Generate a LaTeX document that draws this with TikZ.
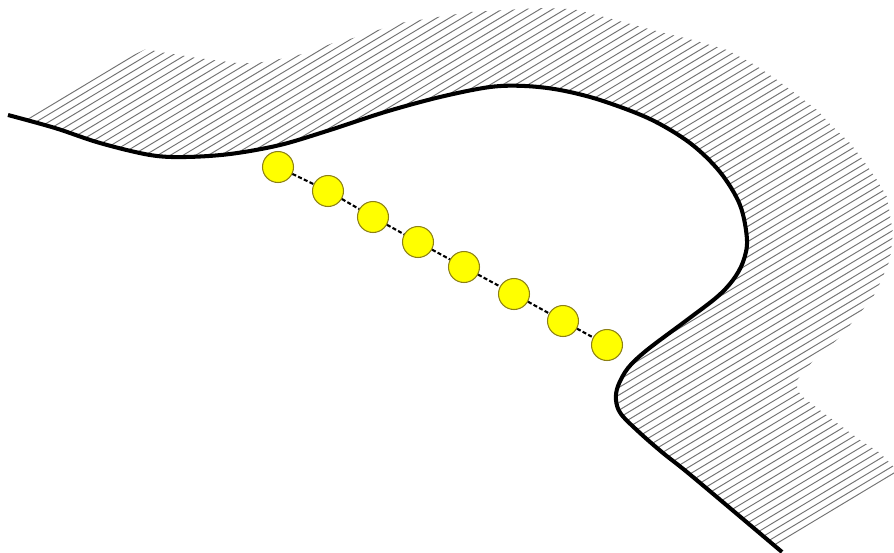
\documentclass[tikz,border=0pt]{standalone}
\definecolor{ballfill}{RGB}{255,255,0}
\definecolor{ballrim}{RGB}{140,128,20}
\definecolor{hatchgray}{RGB}{115,115,115}
\tikzset{
  ball/.style={circle, minimum size=0.62cm, inner sep=0pt, fill=ballfill, draw=ballrim, line width=0.6pt},
  link/.style={line width=1.2pt, dash pattern=on 2.3pt off 1.3pt, black},
  wall/.style={line width=2.3pt, black},
  hatchline/.style={line width=0.55pt, hatchgray}
}
\begin{document}
\begin{tikzpicture}[x=0.02cm, y=-0.02cm]
\useasboundingbox (0,0) rectangle (894,552);
% hatched region
\begin{scope}
\clip plot[smooth, tension=0.55] coordinates {(8,115) (55,128) (100,143) (150,155) (185,157) (230,154) (280,145) (330,130) (385,112) (440,97) (490,87) (525,86) (560,90) (600,100) (650,119) (690,143) (720,172) (740,205) (747,240) (743,262) (733,280) (717,297) (687,320) (647,350) (628,368) (618,386) (616,400) (621,414) (640,433) (663,453) (693,477) (782,552)}
  -- (894,478) -- (894,467) -- (880,453) -- (860,440) -- (837,423) -- (817,408) -- (803,397) -- (797,390) -- (797,380) -- (812,362) -- (840,337) -- (860,313) -- (873,297) -- (880,283) -- (890,260) -- (893,233) -- (887,197) -- (877,180) -- (863,160) -- (850,143) -- (833,127) -- (817,110) -- (800,97) -- (777,80) -- (755,65) -- (727,50) -- (693,40) -- (660,32) -- (627,23) -- (573,9) -- (540,8) -- (470,12) -- (400,23) -- (347,40) -- (333,43) -- (307,53) -- (280,59) -- (257,63) -- (237,63) -- (197,58) -- (173,54) -- (160,52) -- (146,49) -- cycle;
\foreach \i in {0,...,115}{
  \pgfmathsetmacro\cc{116.6+\i*6.517}
  \draw[hatchline] ({\cc*0.515-1000*0.857},{\cc*0.857+1000*0.515}) -- ({\cc*0.515+1000*0.857},{\cc*0.857-1000*0.515});
}
\end{scope}
% wall curve
\draw[wall] plot[smooth, tension=0.55] coordinates {(8,115) (55,128) (100,143) (150,155) (185,157) (230,154) (280,145) (330,130) (385,112) (440,97) (490,87) (525,86) (560,90) (600,100) (650,119) (690,143) (720,172) (740,205) (747,240) (743,262) (733,280) (717,297) (687,320) (647,350) (628,368) (618,386) (616,400) (621,414) (640,433) (663,453) (693,477) (782,552)};
% chain of balls
\node[ball] (b1) at (278,167) {};
\node[ball] (b2) at (328,191) {};
\node[ball] (b3) at (373,217) {};
\node[ball] (b4) at (418,242) {};
\node[ball] (b5) at (464,267) {};
\node[ball] (b6) at (514,294) {};
\node[ball] (b7) at (563,321) {};
\node[ball] (b8) at (607,345) {};
\draw[link] (b1) -- (b2);
\draw[link] (b2) -- (b3);
\draw[link] (b3) -- (b4);
\draw[link] (b4) -- (b5);
\draw[link] (b5) -- (b6);
\draw[link] (b6) -- (b7);
\draw[link] (b7) -- (b8);
\end{tikzpicture}
\end{document}
